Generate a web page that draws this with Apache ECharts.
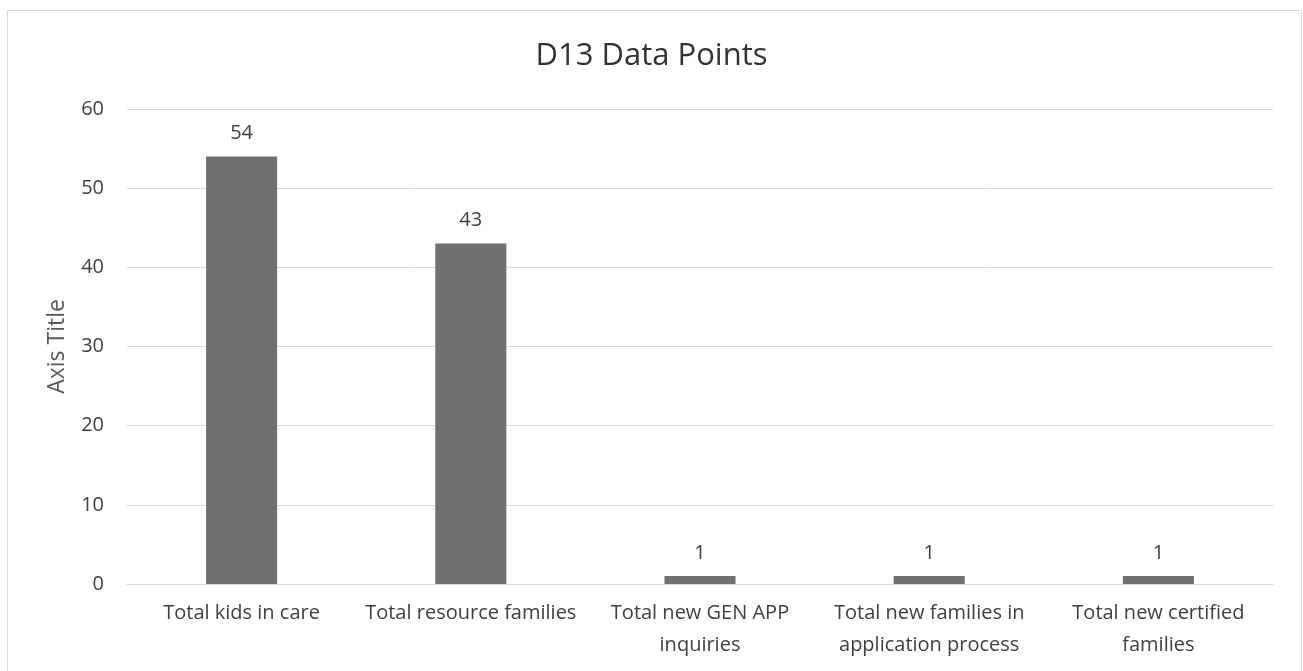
<!DOCTYPE html>
<html>
<head>
<meta charset="utf-8">
<script src="https://cdn.jsdelivr.net/npm/echarts@6/dist/echarts.min.js"></script>
<style>
  html, body { margin: 0; padding: 0; background: #fff; }
  #chart { width: 1303px; height: 671px; }
</style>
</head>
<body>
<div id="chart"></div>
<script>
// data
const categories = [
  'Total kids in care',
  'Total resource families',
  'Total new GEN APP\ninquiries',
  'Total new families in\napplication process',
  'Total new certified\nfamilies'
]
const values = [54, 43, 1, 1, 1]

const FONT = '"Open Sans", "Noto Sans", sans-serif'
const TEXT = '#404040'

const chart = echarts.init(document.getElementById('chart'), null, { renderer: 'canvas' })

chart.setOption({
  backgroundColor: '#fff',
  animation: false,
  title: {
    text: 'D13 Data Points',
    left: 'center',
    top: 36,
    textStyle: { fontFamily: FONT, fontSize: 31, fontWeight: 'normal', color: '#333' }
  },
  // chart outline
  graphic: [{
    type: 'rect',
    shape: { x: 7.5, y: 10.5, width: 1294, height: 670 },
    style: { fill: 'none', stroke: '#d9d9d9', lineWidth: 1 },
    silent: true
  }],
  grid: { left: 127, right: 30, top: 109, bottom: 87 },
  xAxis: {
    type: 'category',
    data: categories,
    axisTick: { show: false },
    axisLine: { lineStyle: { color: '#d9d9d9', width: 1 } },
    axisLabel: {
      color: TEXT, fontFamily: FONT, fontSize: 20,
      margin: 13, lineHeight: 32, interval: 0
    }
  },
  yAxis: {
    type: 'value',
    min: 0,
    max: 60,
    interval: 10,
    name: 'Axis Title',
    nameLocation: 'middle',
    nameGap: 58,
    nameTextStyle: { color: '#595959', fontFamily: FONT, fontSize: 23 },
    axisLine: { show: false },
    axisTick: { show: false },
    axisLabel: { color: TEXT, fontFamily: FONT, fontSize: 20, margin: 23 },
    splitLine: { lineStyle: { color: '#d9d9d9', width: 1 } }
  },
  series: [{
    type: 'bar',
    data: values,
    barWidth: '31%',
    itemStyle: { color: '#707070' },
    label: {
      show: true,
      position: 'top',
      distance: 13,
      color: TEXT,
      fontFamily: FONT,
      fontSize: 20
    }
  }]
})
</script>
</body>
</html>
